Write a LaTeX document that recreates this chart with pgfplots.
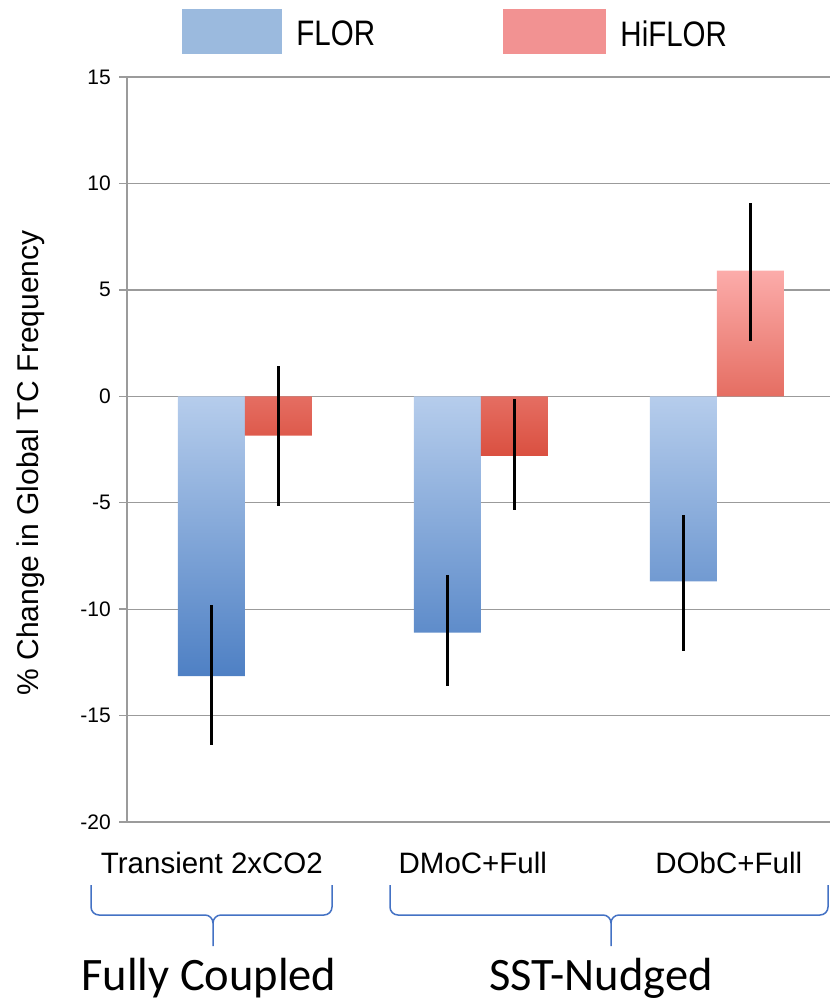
\documentclass[border=0pt]{standalone}
\usepackage{fontspec}
\setmainfont{Liberation Sans}
\newfontfamily\carlito{Carlito}
\usepackage{graphicx}
\usepackage{pgfplots}
\pgfplotsset{compat=1.18}
\definecolor{florT}{RGB}{182,205,236}
\definecolor{florB}{RGB}{78,128,196}
\definecolor{hiT}{RGB}{252,172,170}
\definecolor{hiB}{RGB}{218,80,64}
\definecolor{florL}{RGB}{155,186,222}
\definecolor{hiL}{RGB}{242,146,146}
\definecolor{gridc}{RGB}{155,155,155}
\definecolor{bracec}{RGB}{68,114,196}
\newcommand{\vs}[1]{\scalebox{1}[1.2]{#1}}
\begin{document}
\begin{tikzpicture}[x=1pt,y=1pt]
\useasboundingbox (0,0) rectangle (830,-1004);
\begin{axis}[
  at={(127pt,-822pt)}, anchor=south west,
  scale only axis, width=703pt, height=745pt,
  xmin=-0.5, xmax=2.48, ymin=-20, ymax=15,
  ytick={-20,-15,...,15},
  xtick={-0.14,0.966,2.051},
  xticklabels={Transient 2xCO2,DMoC+Full,DObC+Full},
  axis y line*=left, axis x line*=bottom,
  axis line style={gridc, line width=1.5pt, -},
  ymajorgrids, grid style={gridc, line width=1.3pt},
  tick align=outside, major tick length=8pt,
  xtick style={draw=none}, ytick style={gridc, line width=1.5pt},
  /pgf/number format/assume math mode=true,
  yticklabel style={font=\fontsize{21}{25}\selectfont, inner sep=0pt, anchor=east, xshift=-8pt},
  xticklabel style={font=\fontsize{29.5}{34}\selectfont, inner sep=0pt, anchor=north, yshift=-22pt},
  ylabel={\% Change in Global TC Frequency},
  every axis y label/.style={at={(axis description cs:-0.137,0.482)}, rotate=90, anchor=center,
    font=\fontsize{30}{34}\selectfont, inner sep=0pt},
  legend columns=2,
  legend style={at={(axis description cs:0.0782,1.0913)}, anchor=north west, draw=none, fill=none,
    inner sep=0pt, outer sep=0pt, font=\fontsize{29.5}{34}\selectfont,
    nodes={inner sep=0pt},
    /tikz/every odd column/.append style={column sep=15pt},
    /tikz/every even column/.append style={column sep=128pt}},
]
\addlegendimage{legend image code/.code={\fill[florL] (0pt,-19pt) rectangle (99pt,25pt);}}
\addlegendentry{\vs{FLOR}}
\addlegendimage{legend image code/.code={\fill[hiL] (0pt,-19pt) rectangle (102pt,25pt);}}
\addlegendentry{\vs{HiFLOR}}
% FLOR bars
\addplot[ybar, bar width=0.284, bar shift=0pt, draw=none, top color=florT, bottom color=florB, forget plot]
  coordinates {(-0.142,-13.15) (0.858,-11.1) (1.858,-8.7)};
% HiFLOR bars
\addplot[ybar, bar width=0.284, bar shift=0pt, draw=none, top color=hiT, bottom color=hiB, forget plot]
  coordinates {(0.142,-1.85) (1.142,-2.8) (2.142,5.9)};
% error bars
\addplot[draw=none, mark=none, forget plot,
  error bars/.cd, y dir=both, y explicit, error mark=none,
  error bar style={draw=black, line width=3pt}]
  coordinates {
    (-0.142,-13.15) += (0,3.35) -= (0,3.25)
    (0.858,-11.1) += (0,2.7) -= (0,2.5)
    (1.858,-8.7) += (0,3.1) -= (0,3.25)
    (0.142,-1.85) += (0,3.25) -= (0,3.3)
    (1.142,-2.8) += (0,2.65) -= (0,2.55)
    (2.142,5.9) += (0,3.2) -= (0,3.3)
  };
\end{axis}
% group braces
\begin{scope}[draw=bracec, line width=1.5pt]
\draw (91,-885) -- (91,-907) to[out=-90,in=180] (99,-915) -- (205,-915) to[out=0,in=90] (213,-923) -- (213,-946);
\draw (332,-885) -- (332,-907) to[out=-90,in=0] (324,-915) -- (221,-915) to[out=180,in=90] (213,-923);
\draw (390,-885) -- (390,-907) to[out=-90,in=180] (398,-915) -- (603,-915) to[out=0,in=90] (611,-923) -- (611,-946);
\draw (828,-885) -- (828,-907) to[out=-90,in=0] (820,-915) -- (619,-915) to[out=180,in=90] (611,-923);
\end{scope}
\node[anchor=base, inner sep=0pt, font=\carlito\fontsize{46.5}{52}\selectfont] at (209,-990) {Fully Coupled};
\node[anchor=base, inner sep=0pt, font=\carlito\fontsize{46.5}{52}\selectfont] at (601,-990) {SST-Nudged};
\end{tikzpicture}
\end{document}
